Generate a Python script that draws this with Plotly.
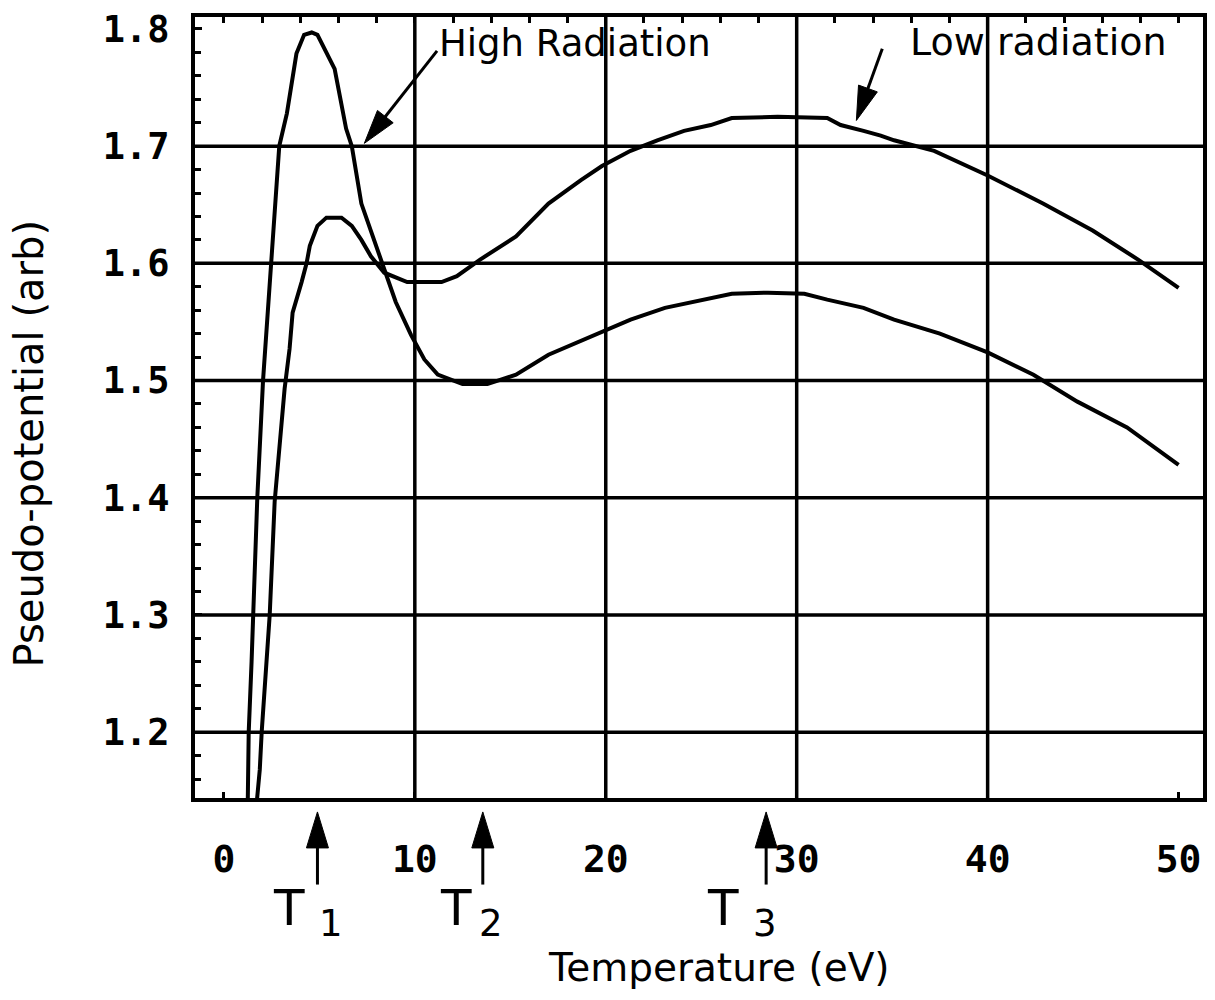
import math
import plotly.graph_objects as go

# ---------------- data ----------------
high_T = [1.25, 1.3, 1.45, 1.6, 1.75, 2.05, 2.5, 2.9, 3.3, 3.8, 4.2, 4.6, 4.9, 5.4, 5.8,
          6.4, 6.7, 7.2, 7.8, 8.2, 9.0, 9.8, 10.5, 11.2, 12.5, 13.8, 15.3, 17.0, 19.8,
          21.3, 23.1, 24.5, 26.6, 28.5, 30.4, 31.6, 33.5, 35.1, 37.5, 40.0, 42.4, 44.7,
          47.3, 50.0]
high_V = [1.14, 1.2, 1.26, 1.33, 1.4, 1.5, 1.6, 1.7, 1.728, 1.779, 1.795, 1.797, 1.795,
          1.779, 1.766, 1.715, 1.70, 1.651, 1.623, 1.602, 1.567, 1.539, 1.518, 1.505,
          1.497, 1.497, 1.505, 1.522, 1.541, 1.552, 1.562, 1.567, 1.574, 1.575, 1.574,
          1.569, 1.562, 1.552, 1.540, 1.524, 1.505, 1.482, 1.460, 1.428]

low_T = [1.72, 1.88, 1.98, 2.19, 2.4, 2.66, 3.18, 3.44, 3.6, 4.07, 4.33, 4.5, 4.9, 5.37,
         6.16, 6.7, 7.2, 7.7, 8.4, 9.6, 11.4, 12.2, 13.4, 15.3, 17.0, 18.7, 19.8, 21.3,
         22.7, 24.1, 25.5, 26.6, 29.0, 31.6, 32.3, 33.5, 34.4, 35.1, 37.2, 40.0, 42.9,
         45.5, 47.9, 50.0]
low_V = [1.14, 1.168, 1.2, 1.255, 1.3, 1.397, 1.493, 1.527, 1.558, 1.584, 1.6, 1.615,
         1.632, 1.639, 1.639, 1.632, 1.62, 1.606, 1.592, 1.584, 1.584, 1.589, 1.603,
         1.623, 1.651, 1.671, 1.683, 1.696, 1.705, 1.713, 1.718, 1.724, 1.725, 1.724,
         1.718, 1.713, 1.709, 1.705, 1.696, 1.675, 1.651, 1.628, 1.603, 1.579]

x_ticks = [0, 10, 20, 30, 40, 50]
y_ticks = [1.2, 1.3, 1.4, 1.5, 1.6, 1.7, 1.8]
y_tick_text = ["1.2", "1.3", "1.4", "1.5", "1.6", "1.7", "1.8"]
x_grid = [10, 20, 30, 40]
y_grid = [1.2, 1.3, 1.4, 1.5, 1.6, 1.7]
x_top_minor = list(range(0, 51, 2))

marker_T = [4.9, 13.56, 28.4]          # T1, T2, T3 arrows (eV)
marker_sub = ["1", "2", "3"]

# ---------------- layout constants ----------------
W, H = 1215, 1000
ML, MR, MT, MB = 195, 8, 13, 202
X0, X1 = -1.513, 51.28
Y0, Y1 = 1.1438, 1.8102
PW, PH = W - ML - MR, H - MT - MB
PXX = PW / (X1 - X0)      # px per eV
PXY = PH / (Y1 - Y0)      # px per unit potential
BLACK = "black"
TEXT_FONT = "DejaVu Sans"
TICK_FONT = "DejaVu Sans Mono"


def head_path(dx, dy_up, L=34.0, hw=10.0):
    n = math.hypot(dx, dy_up)
    ux, uy = dx / n, dy_up / n
    bx, by = -L * ux, -L * uy
    px, py = -uy, ux
    return (f"M0,0 L{bx + hw * px:.2f},{by + hw * py:.2f} "
            f"L{bx - hw * px:.2f},{by - hw * py:.2f} Z")


fig = go.Figure()
fig.add_trace(go.Scatter(x=high_T, y=high_V, mode="lines", name="High Radiation",
                         line=dict(color=BLACK, width=4), showlegend=False))
fig.add_trace(go.Scatter(x=low_T, y=low_V, mode="lines", name="Low radiation",
                         line=dict(color=BLACK, width=4), showlegend=False))
# helper trace to activate the top axis (minor ticks)
fig.add_trace(go.Scatter(x=[None], y=[None], xaxis="x2", showlegend=False,
                         hoverinfo="skip"))

shapes = []
for gx in x_grid:
    shapes.append(dict(type="line", xref="x", yref="paper", x0=gx, x1=gx, y0=0, y1=1,
                       line=dict(color=BLACK, width=3.5), layer="below"))
for gy in y_grid:
    shapes.append(dict(type="line", xref="paper", yref="y", x0=0, x1=1, y0=gy, y1=gy,
                       line=dict(color=BLACK, width=3.5), layer="below"))


def data_arrow(tail, tip, L=34.0, hw=10.0):
    (tx, ty), (hx, hy) = tail, tip
    dx, dy = (hx - tx) * PXX, (hy - ty) * PXY
    n = math.hypot(dx, dy)
    sx = hx - (dx / n) * (L * 0.5) / PXX
    sy = hy - (dy / n) * (L * 0.5) / PXY
    shapes.append(dict(type="line", xref="x", yref="y", x0=tx, y0=ty, x1=sx, y1=sy,
                       line=dict(color=BLACK, width=3)))
    shapes.append(dict(type="path", xref="x", yref="y", xsizemode="pixel",
                       ysizemode="pixel", xanchor=hx, yanchor=hy,
                       path=head_path(dx, dy, L, hw), fillcolor=BLACK,
                       line=dict(color=BLACK, width=1)))


def px2x(p):
    return X0 + (p - ML) / PXX


def py2y(p):
    return Y1 - (p - MT) / PXY


data_arrow((px2x(438), py2y(47)), (px2x(365), py2y(140)))
data_arrow((px2x(885), py2y(45)), (px2x(859), py2y(117)))

# T arrows below axis
tip_py, tail_py = 812, 885
tip_p = (H - MB - tip_py) / PH
tail_p = (H - MB - tail_py) / PH
for tx in marker_T:
    shapes.append(dict(type="line", xref="x", yref="paper", x0=tx, x1=tx,
                       y0=tail_p, y1=tip_p - 17 / PH, line=dict(color=BLACK, width=3)))
    shapes.append(dict(type="path", xref="x", yref="paper", xsizemode="pixel",
                       ysizemode="pixel", xanchor=tx, yanchor=tip_p,
                       path=head_path(0, 1, 36, 11), fillcolor=BLACK,
                       line=dict(color=BLACK, width=1)))

annotations = [
    dict(text="High Radiation", x=px2x(438), y=py2y(40), xref="x", yref="y",
         xanchor="left", yanchor="middle", showarrow=False,
         font=dict(family=TEXT_FONT, size=37, color=BLACK)),
    dict(text="Low radiation", x=px2x(911), y=py2y(38), xref="x", yref="y",
         xanchor="left", yanchor="middle", showarrow=False,
         font=dict(family=TEXT_FONT, size=38, color=BLACK)),
    dict(text="Pseudo-potential (arb)", x=(28 - ML) / PW, y=(H - MB - 442) / PH,
         xref="paper", yref="paper", textangle=-90, showarrow=False,
         xanchor="center", yanchor="middle",
         font=dict(family=TEXT_FONT, size=40, color=BLACK)),
    dict(text="Temperature (eV)", x=(721 - ML) / PW, y=(H - MB - 968) / PH,
         xref="paper", yref="paper", showarrow=False, xanchor="center",
         yanchor="middle", font=dict(family=TEXT_FONT, size=39, color=BLACK)),
]
t_shift = [-28, -27, -43]
s_shift = [14, 8, -1]
for tx, sub, ts, ss in zip(marker_T, marker_sub, t_shift, s_shift):
    annotations.append(dict(text="T", x=tx, xshift=ts, y=(H - MB - 909) / PH,
                            xref="x", yref="paper", showarrow=False,
                            xanchor="center", yanchor="middle",
                            font=dict(family=TEXT_FONT, size=50, color=BLACK)))
    annotations.append(dict(text=sub, x=tx, xshift=ss, y=(H - MB - 924) / PH,
                            xref="x", yref="paper", showarrow=False,
                            xanchor="center", yanchor="middle",
                            font=dict(family=TEXT_FONT, size=37, color=BLACK)))

fig.update_layout(
    width=W, height=H,
    margin=dict(l=ML, r=MR, t=MT, b=MB, pad=0),
    paper_bgcolor="white", plot_bgcolor="white",
    showlegend=False,
    shapes=shapes,
    annotations=annotations,
    xaxis=dict(range=[X0, X1], tickmode="array", tickvals=x_ticks,
               ticktext=[str(v) for v in x_ticks], showgrid=False, zeroline=False,
               showline=True, linewidth=4, linecolor=BLACK, mirror=True,
               ticks="inside", ticklen=6, tickwidth=3, tickcolor=BLACK,
               ticklabelstandoff=24,
               tickfont=dict(family=TICK_FONT, size=38, color=BLACK, weight="bold")),
    xaxis2=dict(range=[X0, X1], overlaying="x", side="top", anchor="y",
                tickmode="array", tickvals=x_top_minor, showticklabels=False,
                ticks="inside", ticklen=6, tickwidth=3, tickcolor=BLACK,
                showgrid=False, zeroline=False, showline=False),
    yaxis=dict(range=[Y0, Y1], tickmode="array", tickvals=y_ticks,
               ticktext=y_tick_text, showgrid=False, zeroline=False,
               showline=True, linewidth=4, linecolor=BLACK, mirror=True,
               ticks="inside", ticklen=7, tickwidth=3, tickcolor=BLACK,
               ticklabelstandoff=14,
               minor=dict(ticks="inside", ticklen=6, tickwidth=3, tickcolor=BLACK,
                          tick0=1.2, dtick=0.02, showgrid=False),
               tickfont=dict(family=TICK_FONT, size=37, color=BLACK, weight="bold")),
)

fig.write_html("out.html")
